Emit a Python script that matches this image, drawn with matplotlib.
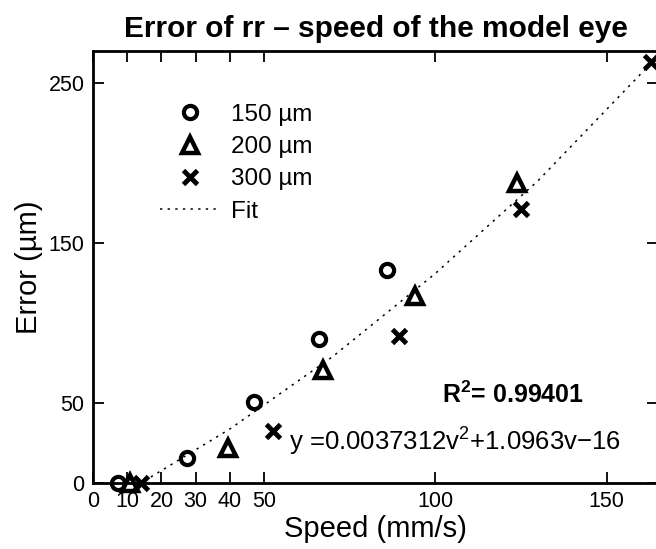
import numpy as np
import matplotlib.pyplot as plt

plt.rcParams['font.family'] = ['Liberation Sans', 'DejaVu Sans']
plt.rcParams['mathtext.fontset'] = 'custom'
plt.rcParams['mathtext.rm'] = 'Liberation Sans'
plt.rcParams['mathtext.it'] = 'Liberation Sans'
plt.rcParams['mathtext.bf'] = 'Liberation Sans:bold'

# speed (mm/s) and error (um), per lens size
v_150 = [7.3, 27.5, 47.0, 66.0, 86.0]
e_150 = [0.0, 15.6, 50.6, 90.0, 133.0]
v_200 = [10.8, 39.5, 67.3, 93.9, 123.7]
e_200 = [0.0, 22.0, 70.6, 117.0, 187.5]
v_300 = [14.0, 52.6, 89.5, 125.1, 162.9]
e_300 = [0.0, 32.5, 92.0, 171.0, 263.0]

# points
fit_v = [15, 40, 70, 100, 130, 170]
fit_e = [1.3, 33.8, 79.0, 131.0, 189.0, 278.0]

xticks = [0, 10, 20, 30, 40, 50, 100, 150]
yticks = [0, 50, 150, 250]

fig = plt.figure(figsize=(6.56, 5.49), dpi=100)
ax = fig.add_axes([93 / 656, 1 - 483 / 549, 565 / 656, 432 / 549])

ax.plot(fit_v, fit_e, color='black', lw=1.1, dashes=(1.5, 3.5), label='Fit', zorder=2)
ax.plot(v_150, e_150, 'o', ms=9.5, mew=3.0, mfc='none', mec='black', label='150 µm',
        clip_on=False, zorder=3)
ax.plot(v_200, e_200, '^', ms=11, mew=3.2, mfc='none', mec='black', label='200 µm',
        clip_on=False, zorder=3)
ax.plot(v_300, e_300, 'x', ms=9.5, mew=3.5, color='black', label='300 µm',
        clip_on=False, zorder=3)

ax.set_xlim(0, 165)
ax.set_ylim(0, 270)
ax.set_xticks(xticks)
ax.set_xticklabels([str(t) for t in xticks])
ax.set_yticks(yticks)
ax.set_yticklabels([str(t) for t in yticks])
ax.tick_params(direction='in', length=8, width=1.3, labelsize=15.5, top=True, right=True,
               pad=6)
for s in ax.spines.values():
    s.set_linewidth(2.0)

ax.set_xlabel('Speed (mm/s)', fontsize=21, labelpad=2)
ax.set_ylabel('Error (µm)', fontsize=21, labelpad=4)
ax.set_title('Error of rr – speed of the model eye', fontsize=21.5, fontweight='bold', pad=10)

ax.text(122.6, 55, r'$\mathbf{R^2}$= 0.99401', fontsize=18, fontweight='bold',
        ha='center', va='center')
ax.text(105.8, 25.6, r'y =0.0037312v$^2$+1.0963v−16', fontsize=18.5,
        ha='center', va='center')

handles, labels = ax.get_legend_handles_labels()
order = [1, 2, 3, 0]
ax.legend([handles[i] for i in order], [labels[i] for i in order],
          loc='upper left', bbox_to_anchor=(0.102, 0.90), frameon=False,
          fontsize=17.5, handlelength=2.4, handletextpad=0.5, labelspacing=0.42,
          borderaxespad=0)

fig.savefig('out.png', dpi=100)
